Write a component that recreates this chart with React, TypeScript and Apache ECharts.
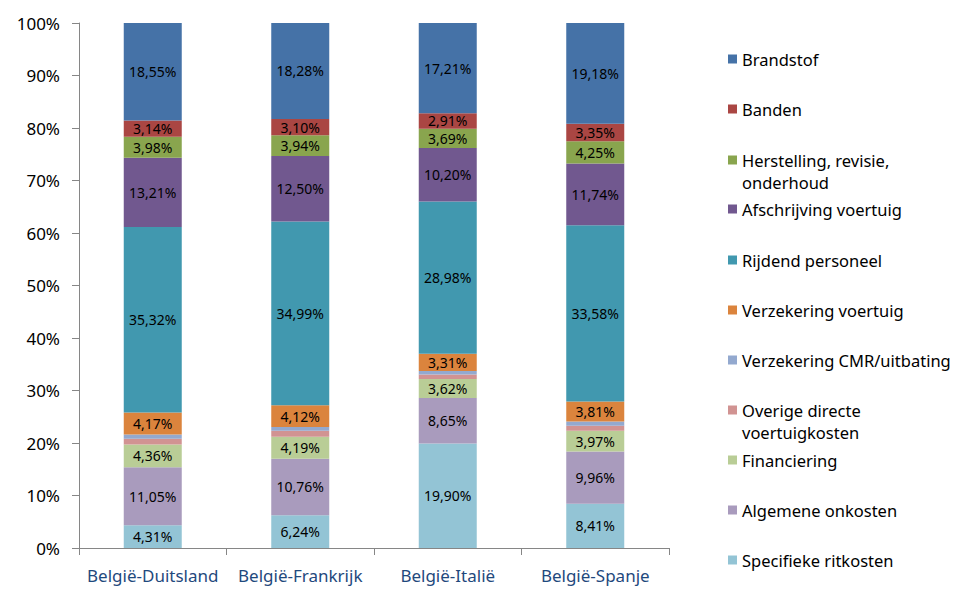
import React, { useEffect, useRef } from "react";
import * as echarts from "echarts";

const categories = ["België-Duitsland", "België-Frankrijk", "België-Italië", "België-Spanje"];

const seriesNames = [
  "Specifieke ritkosten",
  "Algemene onkosten",
  "Financiering",
  "Overige directe voertuigkosten",
  "Verzekering CMR/uitbating",
  "Verzekering voertuig",
  "Rijdend personeel",
  "Afschrijving voertuig",
  "Herstelling, revisie, onderhoud",
  "Banden",
  "Brandstof",
];

const specifieke = [4.31, 6.24, 19.9, 8.41];
const algemene = [11.05, 10.76, 8.65, 9.96];
const financiering = [4.36, 4.19, 3.62, 3.97];
const overige = [1.09, 1.13, 0.86, 0.95];
const cmr = [0.82, 0.75, 0.67, 0.8];
const verzekering = [4.17, 4.12, 3.31, 3.81];
const rijdend = [35.32, 34.99, 28.98, 33.58];
const afschrijving = [13.21, 12.5, 10.2, 11.74];
const herstelling = [3.98, 3.94, 3.69, 4.25];
const banden = [3.14, 3.1, 2.91, 3.35];
const brandstof = [18.55, 18.28, 17.21, 19.18];

const seriesValues = [
  specifieke, algemene, financiering, overige, cmr, verzekering,
  rijdend, afschrijving, herstelling, banden, brandstof,
];

const colors = [
  "#93C4D5", "#A99BBD", "#B9CD96", "#D19392", "#93A9CF", "#DB843D",
  "#4198AF", "#71588F", "#89A54E", "#AA4643", "#4572A7",
];

const showLabel = [true, true, true, false, false, true, true, true, true, true, true];

const yTicks = [0, 10, 20, 30, 40, 50, 60, 70, 80, 90, 100];

// legend layout: first line center y for each (top to bottom order)
const legendOrder = [10, 9, 8, 7, 6, 5, 4, 3, 2, 1, 0];
const legendY = [59, 109, 160, 209, 260, 310, 360, 410, 460, 510, 560];
const legendFirstLine: Record<string, string> = {
  "Herstelling, revisie, onderhoud": "Herstelling, revisie,",
  "Overige directe voertuigkosten": "Overige directe",
};
const legendSecondLine: Record<string, string> = {
  "Herstelling, revisie, onderhoud": "onderhoud",
  "Overige directe voertuigkosten": "voertuigkosten",
};

const FONT = "Noto Sans";
const LFS = 16.5;

export default function App() {
  const ref = useRef<HTMLDivElement>(null);
  useEffect(() => {
    if (!ref.current) return;
    const chart = echarts.init(ref.current, undefined, { renderer: "svg" });

    const legends: any[] = [];
    const graphics: any[] = [];
    legendOrder.forEach((si, i) => {
      const name = seriesNames[si];
      legends.push({
        data: [name],
        left: 728,
        top: legendY[i] - 10,
        padding: 0,
        itemWidth: 9,
        itemHeight: 9,
        itemGap: 0,
        icon: "rect",
        selectedMode: false,
        formatter: (n: string) => legendFirstLine[n] || n,
        textStyle: { fontFamily: FONT, fontSize: LFS, color: "#000", lineHeight: 20, padding: [0, 0, 0, 0] },
      });
      if (legendSecondLine[name]) {
        graphics.push({
          type: "text",
          left: 742,
          top: legendY[i] + 22 - 10,
          style: { text: legendSecondLine[name], fontFamily: FONT, fontSize: LFS, fill: "#000", lineHeight: 20 },
        });
      }
    });

    chart.setOption({
      animation: false,
      color: colors,
      grid: { left: 79, right: 311, top: 23, bottom: 53 },
      legend: legends,
      graphic: graphics,
      xAxis: {
        type: "category",
        data: categories,
        axisLine: { lineStyle: { color: "#868686" } },
        axisTick: { show: true, length: 7, lineStyle: { color: "#868686" } },
        axisLabel: { interval: 0, fontFamily: FONT, fontSize: 17, color: "#1F497D", margin: 19 },
      },
      yAxis: {
        type: "value",
        min: 0,
        max: 100,
        interval: 10,
        axisLine: { show: true, lineStyle: { color: "#868686" } },
        axisTick: { show: true, length: 7, lineStyle: { color: "#868686" } },
        splitLine: { show: false },
        axisLabel: {
          fontFamily: FONT,
          fontSize: 17,
          color: "#000",
          margin: 19,
          formatter: (v: number) => (yTicks.includes(v) ? v + "%" : ""),
        },
      },
      series: seriesNames.map((name, i) => ({
        name,
        type: "bar",
        stack: "total",
        barWidth: 58,
        data: seriesValues[i],
        itemStyle: { color: colors[i] },
        label: {
          show: showLabel[i],
          position: "inside",
          fontFamily: FONT,
          fontSize: 14,
          color: "#000",
          formatter: (p: any) => p.value.toFixed(2).replace(".", ",") + "%",
        },
      })),
    });
    return () => chart.dispose();
  }, []);
  return <div ref={ref} style={{ width: 980, height: 601, position: "absolute", left: 0, top: 0 }} />;
}
